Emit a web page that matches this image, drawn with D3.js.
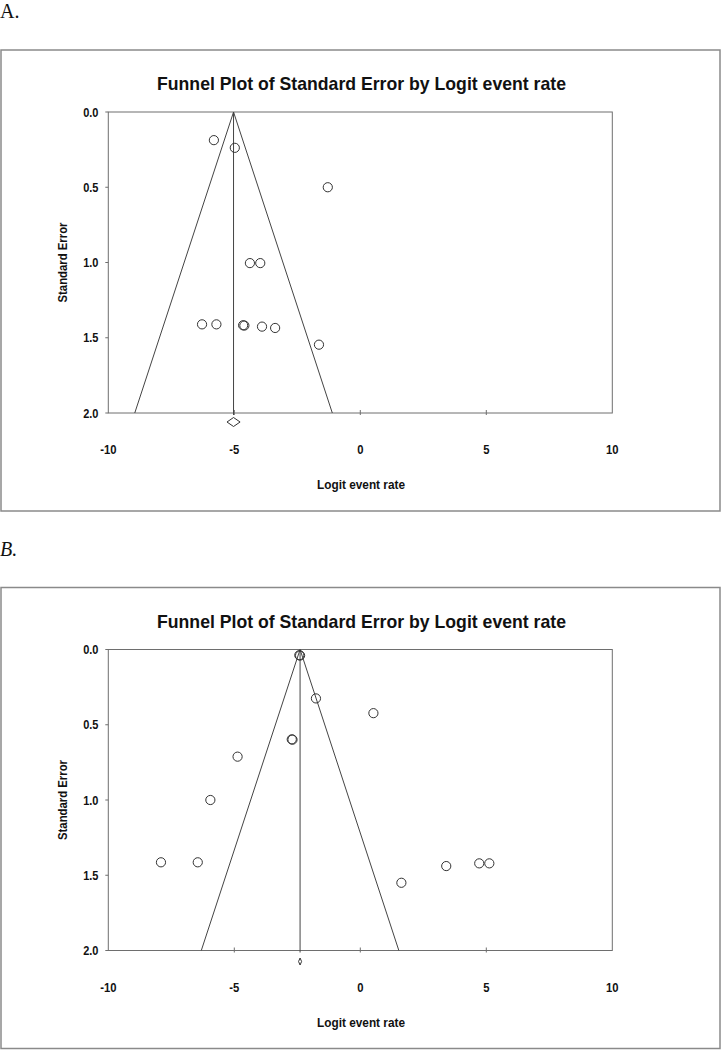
<!DOCTYPE html>
<html>
<head>
<meta charset="utf-8">
<script src="https://cdn.jsdelivr.net/npm/d3@7"></script>
<style>
  body { margin: 0; background: #fff; }
  svg { display: block; }
</style>
</head>
<body>
<div id="wrapper"></div>
<script>
// values
const xTicks = [-10, -5, 0, 5, 10]
const yTicks = [0, 0.5, 1.0, 1.5, 2.0]

const logitA = [-5.81, -4.98, -1.29, -4.38, -3.97, -6.28, -5.71, -4.65, -4.60, -3.90, -3.38, -1.64]
const seA    = [0.187, 0.238, 0.50, 1.004, 1.004, 1.411, 1.411, 1.417, 1.419, 1.426, 1.435, 1.546]
const pooledA = -5.03
const pooledCiA = [-5.29, -4.77]

const logitB = [-2.42, -2.39, -1.76, 0.52, -2.72, -2.69, -4.87, -5.95, -7.91, -6.45, 1.63, 3.41, 4.72, 5.12]
const seB    = [0.038, 0.040, 0.325, 0.423, 0.597, 0.599, 0.712, 1.0, 1.414, 1.414, 1.55, 1.439, 1.421, 1.421]
const pooledB = -2.39
const pooledCiB = [-2.45, -2.33]

const titleText = "Funnel Plot of Standard Error by Logit event rate"

// 1. dimensions
const dimensions = {
    width: 722,
    height: 1051,
    margins: { left: 108.3, right: 109.7 },
}
dimensions.boundedWidth = dimensions.width - dimensions.margins.left - dimensions.margins.right

const wrapper = d3.select("#wrapper")
    .append("svg")
        .attr("width", dimensions.width)
        .attr("height", dimensions.height)

const xScale = d3.scaleLinear()
    .domain([-10, 10])
    .range([dimensions.margins.left, dimensions.margins.left + dimensions.boundedWidth])

const sansFont = "'Liberation Sans', Arial, sans-serif"

// the original text is a narrow bold face, squeeze the glyphs a bit
function squeeze(sel, k) {
    sel.each(function() {
        const w = this.getComputedTextLength()
        d3.select(this)
            .attr("textLength", w * k)
            .attr("lengthAdjust", "spacingAndGlyphs")
    })
}

function drawPanel(opts) {
    const g = wrapper.append("g")
        .attr("transform", `translate(0, ${opts.offset})`)

    const top = 112, bottom = 413
    const yScale = d3.scaleLinear().domain([0, 2]).range([top, bottom])

    // outer frame
    g.append("rect")
        .attr("x", 1).attr("y", 50)
        .attr("width", 719).attr("height", 461)
        .attr("fill", "none")
        .attr("stroke", "#8a8a8a")
        .attr("stroke-width", 1.5)

    // panel letter
    g.append("text")
        .attr("x", 0).attr("y", 18)
        .style("font-family", "'Liberation Serif', 'Times New Roman', serif")
        .style("font-size", "20px")
        .style("font-style", opts.italic ? "italic" : "normal")
        .attr("fill", "#111")
        .text(opts.letter)

    // title
    g.append("text")
        .attr("x", 361.5).attr("y", 90)
        .attr("text-anchor", "middle")
        .attr("textLength", 409)
        .attr("lengthAdjust", "spacingAndGlyphs")
        .style("font-family", sansFont)
        .style("font-weight", "bold")
        .style("font-size", "19px")
        .attr("fill", "#111")
        .text(titleText)

    // plot frame
    g.append("rect")
        .attr("x", xScale(-10)).attr("y", top)
        .attr("width", xScale(10) - xScale(-10))
        .attr("height", bottom - top)
        .attr("fill", "none")
        .attr("stroke", "#6e6e6e")
        .attr("stroke-width", 1)

    // x ticks (crossing bottom line)
    g.selectAll(".xtick")
        .data(xTicks.slice(1, -1))
        .join("line")
            .attr("x1", d => xScale(d)).attr("x2", d => xScale(d))
            .attr("y1", bottom - 3).attr("y2", bottom + 2)
            .attr("stroke", "#6e6e6e")

    g.selectAll(".xlab")
        .data(xTicks)
        .join("text")
            .attr("x", d => xScale(d))
            .attr("y", 454)
            .attr("text-anchor", "middle")
            .style("font-family", sansFont)
            .style("font-weight", "bold")
            .style("font-size", "12.5px")
            .attr("fill", "#111")
            .text(d => String(d))
            .call(squeeze, 0.9)

    // y ticks
    g.selectAll(".ytick")
        .data(yTicks)
        .join("line")
            .attr("x1", xScale(-10) - 3).attr("x2", xScale(-10))
            .attr("y1", d => yScale(d)).attr("y2", d => yScale(d))
            .attr("stroke", "#6e6e6e")

    g.selectAll(".ylab")
        .data(yTicks)
        .join("text")
            .attr("x", 98.5)
            .attr("y", d => yScale(d))
            .attr("dy", "0.36em")
            .attr("text-anchor", "end")
            .style("font-family", sansFont)
            .style("font-weight", "bold")
            .style("font-size", "12.5px")
            .attr("fill", "#111")
            .text(d => d3.format(".1f")(d))
            .call(squeeze, 0.88)

    // axis titles
    g.append("text")
        .attr("x", 361).attr("y", 489)
        .attr("text-anchor", "middle")
        .attr("textLength", 88)
        .attr("lengthAdjust", "spacingAndGlyphs")
        .style("font-family", sansFont)
        .style("font-weight", "bold")
        .style("font-size", "12.5px")
        .attr("fill", "#111")
        .text("Logit event rate")

    g.append("text")
        .attr("transform", `translate(67, ${(top + bottom) / 2}) rotate(-90)`)
        .attr("text-anchor", "middle")
        .attr("textLength", 80)
        .attr("lengthAdjust", "spacingAndGlyphs")
        .style("font-family", sansFont)
        .style("font-weight", "bold")
        .style("font-size", "12.5px")
        .attr("fill", "#111")
        .text("Standard Error")

    // funnel: pooled estimate +/- 1.96 * SE
    const funnel = [
        [opts.pooled - 1.96 * 2, 2],
        [opts.pooled, 0],
        [opts.pooled + 1.96 * 2, 2],
    ]
    const lineGen = d3.line()
        .x(d => xScale(d[0]))
        .y(d => yScale(d[1]))

    g.append("path")
        .attr("d", lineGen(funnel))
        .attr("fill", "none")
        .attr("stroke", "#444")
        .attr("stroke-width", 1)

    g.append("line")
        .attr("x1", xScale(opts.pooled)).attr("x2", xScale(opts.pooled))
        .attr("y1", yScale(0)).attr("y2", yScale(2) + 2)
        .attr("stroke", "#444")
        .attr("stroke-width", 1)

    // studies
    g.selectAll("circle")
        .data(d3.range(opts.logit.length))
        .join("circle")
            .attr("cx", i => xScale(opts.logit[i]))
            .attr("cy", i => yScale(opts.se[i]))
            .attr("r", 4.6)
            .attr("fill", "none")
            .attr("stroke", "#333")
            .attr("stroke-width", 1)

    // pooled diamond under the axis
    const dy = opts.diamondY, h = opts.diamondH
    const diamond = [
        [xScale(opts.ci[0]), dy],
        [xScale(opts.pooled), dy - h],
        [xScale(opts.ci[1]), dy],
        [xScale(opts.pooled), dy + h],
    ]
    g.append("path")
        .attr("d", "M" + diamond.join("L") + "Z")
        .attr("fill", "#fff")
        .attr("stroke", "#333")
        .attr("stroke-width", 1)
}

drawPanel({
    offset: 0, letter: "A.", italic: false,
    logit: logitA, se: seA, pooled: pooledA, ci: pooledCiA,
    diamondY: 422, diamondH: 4.5,
})

drawPanel({
    offset: 537.5, letter: "B.", italic: true,
    logit: logitB, se: seB, pooled: pooledB, ci: pooledCiB,
    diamondY: 424, diamondH: 3.5,
})
</script>
</body>
</html>
